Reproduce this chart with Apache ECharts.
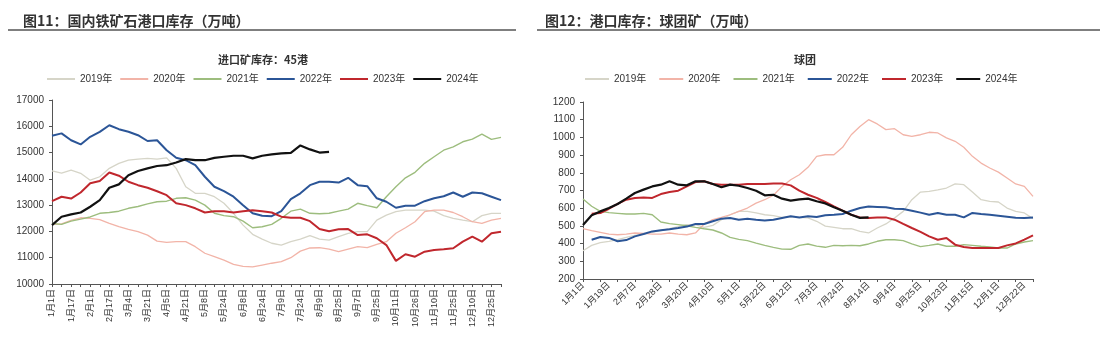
<!DOCTYPE html>
<html>
<head>
<meta charset="utf-8">
<script src="https://cdn.jsdelivr.net/npm/echarts@6/dist/echarts.min.js"></script>
<style>
  html, body { margin: 0; padding: 0; background: #ffffff; }
  #chart { width: 1108px; height: 340px; }
</style>
</head>
<body>
<div id="chart"></div>
<script>
// ---- 图11：45港进口矿库存（万吨），每个刻度约半月一个点 ----
const ticksLeft = ["1月1日","1月17日","2月1日","2月17日","3月4日","3月21日","4月5日","4月21日",
  "5月8日","5月24日","6月8日","6月24日","7月9日","7月24日","8月9日","8月25日",
  "9月7日","9月25日","10月11日","10月26日","11月10日","11月25日","12月10日","12月25日"];

const ore2019 = [14300,14220,14330,14210,13950,14080,14400,14590,14710,14750,
  14780,14750,14800,14400,13700,13450,13450,13320,13070,12690,
  12240,11890,11710,11550,11480,11610,11710,11840,11710,11670,
  11800,11930,11990,11990,12430,12620,12750,12810,12810,12810,
  12770,12600,12500,12430,12370,12600,12690,12690];
const ore2020 = [12270,12290,12420,12520,12500,12450,12310,12180,12080,11990,
  11860,11630,11580,11610,11610,11420,11170,11040,10910,10750,
  10670,10650,10720,10790,10850,11000,11250,11370,11380,11330,
  11230,11330,11420,11380,11510,11610,11930,12140,12370,12750,
  12810,12810,12720,12560,12370,12310,12430,12500];
const ore2021 = [12300,12270,12390,12470,12550,12690,12720,12770,12880,12950,
  13050,13130,13150,13260,13280,13190,13000,12690,12600,12560,
  12390,12140,12180,12270,12500,12770,12850,12690,12670,12690,
  12770,12850,13070,12980,12900,13320,13700,14040,14250,14590,
  14840,15090,15220,15410,15510,15700,15500,15580];
const ore2022 = [15640,15730,15470,15310,15600,15790,16040,15890,15790,15660,
  15440,15470,15090,14800,14710,14520,14080,13700,13530,13320,
  13000,12690,12600,12580,12770,13230,13450,13760,13890,13890,
  13860,14040,13760,13720,13260,13130,12900,12980,12980,13150,
  13260,13340,13480,13320,13480,13450,13320,13190];
const ore2023 = [13150,13320,13250,13480,13830,13920,14240,14120,13890,13760,
  13660,13530,13380,13070,13000,12880,12720,12770,12770,12720,
  12770,12810,12770,12720,12560,12520,12520,12390,12090,12010,
  12080,12090,11860,11890,11740,11480,10880,11130,11040,11230,
  11290,11320,11360,11610,11800,11610,11930,11990];
const ore2024 = [12240,12560,12650,12720,12940,13190,13660,13790,14140,14300,
  14400,14490,14520,14620,14750,14710,14710,14800,14840,14880,
  14880,14780,14880,14930,14970,14990,15270,15120,15000,15030];

// ---- 图12：球团矿港口库存（万吨），周度 ----
const ticksRight = ["1月1日","1月19日","2月7日","2月28日","3月20日","4月10日","5月1日","5月22日",
  "6月12日","7月3日","7月24日","8月14日","9月4日","9月25日","10月23日","11月15日","12月1日","12月22日"];

const pel2019 = [360,390,405,413,422,435,447,454,465,473,
  484,496,507,507,492,503,535,563,582,582,
  573,563,558,548,552,548,545,526,499,492,
  484,484,469,460,488,511,545,582,648,691,
  695,703,714,737,733,691,648,639,635,601,
  582,573,541];
const pel2020 = [484,473,464,454,450,454,460,458,454,454,
  460,454,450,460,511,535,548,563,582,601,
  629,648,673,723,761,789,831,893,902,902,
  944,1015,1062,1100,1076,1044,1049,1015,1006,1015,
  1029,1025,997,978,944,893,855,827,804,771,
  737,723,667];
const pel2021 = [652,611,582,575,571,567,567,571,563,522,
  513,507,501,492,484,477,460,435,424,417,
  403,390,379,369,368,390,398,386,379,390,
  388,390,388,398,413,422,422,417,398,383,
  390,398,385,385,394,390,385,381,375,375,
  398,409,417];
const pel2022 = [null,422,437,432,413,420,441,454,469,475,
  481,488,496,511,511,526,541,545,535,541,
  535,530,535,545,554,548,554,550,560,563,
  567,586,601,609,607,605,597,595,586,575,
  563,573,563,563,548,573,567,563,558,552,
  546,545,548];
const pel2023 = [null,569,573,597,624,648,658,661,658,680,
  691,699,723,748,752,737,733,733,733,737,
  737,737,740,740,729,699,676,658,635,610,
  586,563,548,545,548,548,535,511,488,466,
  441,422,432,394,381,375,375,375,375,390,
  401,422,447];
const pel2024 = [505,560,582,601,624,654,686,705,723,733,
  752,733,729,752,752,737,718,733,727,714,
  699,673,676,654,643,650,654,639,627,605,
  586,563,545,548];

const years = ["2019年","2020年","2021年","2022年","2023年","2024年"];
const colors = ["#d6d5c8","#f2b4a8","#9dbd7e","#2b5597","#c0272d","#111111"];
const widths = [1.3,1.3,1.4,2,2,2.2];

const FONT = '"Liberation Sans","Noto Sans CJK SC",sans-serif';
const CJK = '"Noto Sans CJK SC",sans-serif';

// one category per data point; only every Nth gets a visible label
const nLeft = ore2019.length;
const nRight = pel2019.length;
const catsLeft = Array.from({length: nLeft}, (_, i) => String(i));
const catsRight = Array.from({length: nRight}, (_, i) => String(i));

const leftData = [ore2019, ore2020, ore2021, ore2022, ore2023, ore2024];
const rightData = [pel2019, pel2020, pel2021, pel2022, pel2023, pel2024];

function makeSeries(dataSets, axisIdx) {
  return dataSets.map((d, k) => ({
    name: years[k],
    type: 'line',
    xAxisIndex: axisIdx,
    yAxisIndex: axisIdx,
    data: d,
    symbol: 'none',
    smooth: false,
    connectNulls: false,
    z: 2 + k,
    lineStyle: { color: colors[k], width: widths[k] },
    itemStyle: { color: colors[k] },
    animation: false
  }));
}

const axisLineStyle = { lineStyle: { color: '#555555', width: 1 } };

const legendBase = {
  data: years,
  icon: 'rect',
  itemHeight: 2,
  selectedMode: false,
  textStyle: { fontFamily: FONT, fontSize: 10, color: '#333333' }
};

const chart = echarts.init(document.getElementById('chart'), null, { renderer: 'canvas' });
chart.setOption({
  backgroundColor: '#ffffff',
  animation: false,
  textStyle: { fontFamily: FONT },
  title: [
    { text: '图11：国内铁矿石港口库存（万吨）', left: 18, top: 9,
      textStyle: { fontFamily: CJK, fontSize: 14, fontWeight: 'bold', color: '#333333' } },
    { text: '图12：港口库存：球团矿（万吨）', left: 540, top: 9,
      textStyle: { fontFamily: CJK, fontSize: 14, fontWeight: 'bold', color: '#333333' } },
    { text: '进口矿库存：45港', left: 258, top: 49, textAlign: 'center',
      textStyle: { fontFamily: CJK, fontSize: 11, fontWeight: 'bold', color: '#333333' } },
    { text: '球团', left: 800, top: 49, textAlign: 'center',
      textStyle: { fontFamily: CJK, fontSize: 11, fontWeight: 'bold', color: '#333333' } }
  ],
  graphic: [
    { type: 'line', shape: { x1: 8, y1: 30, x2: 516, y2: 30 },
      style: { stroke: '#555555', lineWidth: 1.5 } },
    { type: 'line', shape: { x1: 537, y1: 30, x2: 1100, y2: 30 },
      style: { stroke: '#555555', lineWidth: 1.5 } }
  ],
  legend: [
    Object.assign({}, legendBase, { left: 42, top: 69, itemWidth: 28, itemGap: 8 }),
    Object.assign({}, legendBase, { left: 580, top: 69, itemWidth: 24, itemGap: 13 })
  ],
  grid: [
    { left: 52, right: 607, top: 100, bottom: 56, containLabel: false },
    { left: 583, right: 75, top: 102, bottom: 61, containLabel: false }
  ],
  xAxis: [
    {
      type: 'category', gridIndex: 0, data: catsLeft, boundaryGap: false,
      axisLine: axisLineStyle,
      axisTick: { show: true, interval: 0, length: 3, lineStyle: { color: '#555555' } },
      axisLabel: {
        interval: 1, rotate: 90, margin: 5, fontSize: 9, color: '#333333', fontFamily: FONT,
        formatter: (v, i) => ticksLeft[i / 2] || ''
      },
      splitLine: { show: false }
    },
    {
      type: 'category', gridIndex: 1, data: catsRight, boundaryGap: false,
      axisLine: axisLineStyle,
      axisTick: { show: true, interval: 1, length: 3, lineStyle: { color: '#555555' } },
      axisLabel: {
        interval: 2, rotate: 45, margin: 5, fontSize: 9, color: '#333333', fontFamily: FONT,
        formatter: (v, i) => ticksRight[i / 3] || ''
      },
      splitLine: { show: false }
    }
  ],
  yAxis: [
    {
      type: 'value', gridIndex: 0, min: 10000, max: 17000, interval: 1000,
      axisLine: { show: true, lineStyle: { color: '#555555' } },
      axisTick: { show: true, length: 3, lineStyle: { color: '#555555' } },
      axisLabel: { fontSize: 10, color: '#333333', margin: 8, fontFamily: FONT,
        formatter: v => String(v) },
      splitLine: { show: false }
    },
    {
      type: 'value', gridIndex: 1, min: 200, max: 1200, interval: 100,
      axisLine: { show: true, lineStyle: { color: '#555555' } },
      axisTick: { show: true, length: 3, lineStyle: { color: '#555555' } },
      axisLabel: { fontSize: 10, color: '#333333', margin: 8, fontFamily: FONT,
        formatter: v => String(v) },
      splitLine: { show: false }
    }
  ],
  series: makeSeries(leftData, 0).concat(makeSeries(rightData, 1))
});
</script>
</body>
</html>
